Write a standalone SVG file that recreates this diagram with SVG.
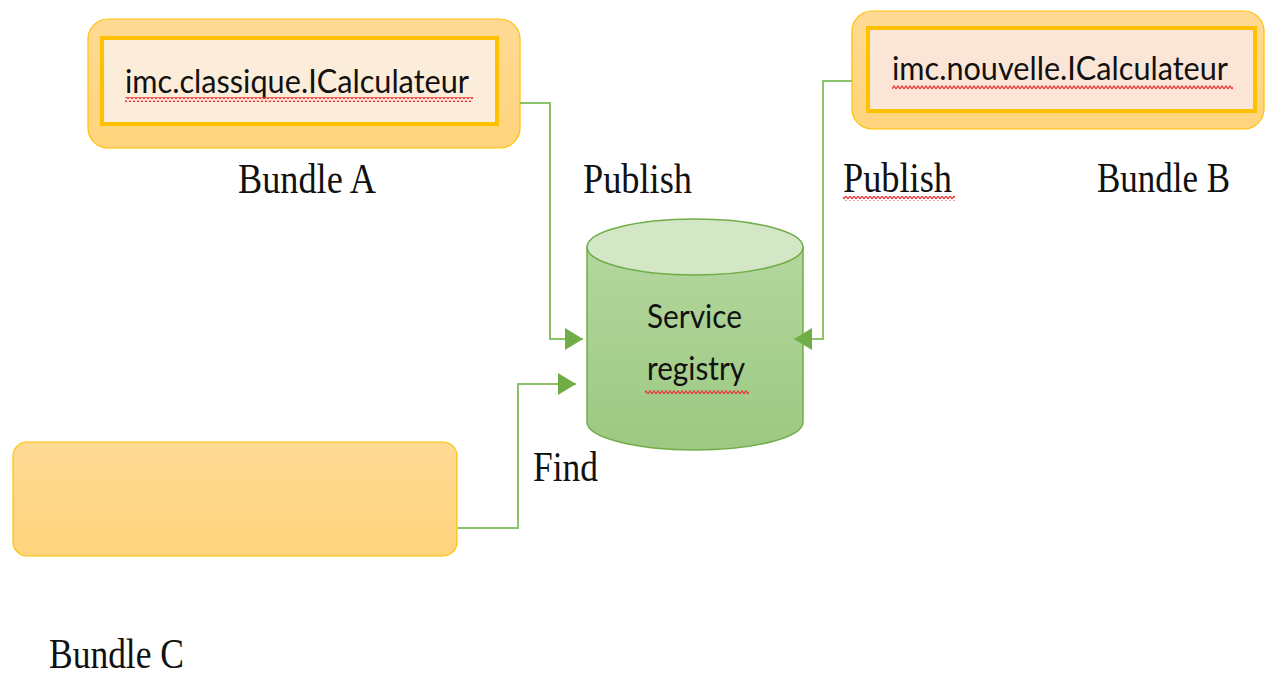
<svg xmlns="http://www.w3.org/2000/svg" width="1269" height="675" viewBox="0 0 1269 675">
  <style>
    .bundle-outer { fill: url(#bundleFill); stroke: #FFC000; stroke-width: 1.2; }
    .iface { stroke: #FFC000; stroke-width: 4; }
    .iface-text { font-family: "Lato", "Open Sans", "Liberation Sans", sans-serif; font-size: 32px; fill: #111; }
    .label { font-family: "Liberation Serif", "DejaVu Serif", serif; font-size: 42px; fill: #111; }
    .reg-text { font-family: "Lato", "Open Sans", "Liberation Sans", sans-serif; font-size: 32px; fill: #111; }
    .link { fill: none; stroke: #8CC26A; stroke-width: 2; }
    .spell { fill: url(#squiggle); }
  </style>
  <defs>
    <linearGradient id="bundleFill" x1="0" y1="0" x2="0" y2="1">
      <stop offset="0" stop-color="#FFDA94"/>
      <stop offset="1" stop-color="#FFD47C"/>
    </linearGradient>
    <linearGradient id="cylBody" x1="0" y1="0" x2="0" y2="1">
      <stop offset="0" stop-color="#B3D69D"/>
      <stop offset="1" stop-color="#9CC982"/>
    </linearGradient>
    <!-- red wavy spell-check underline -->
    <pattern id="squiggle" patternUnits="userSpaceOnUse" width="4" height="5">
      <path d="M0 4 L2 1 L4 4" fill="none" stroke="#E8393B" stroke-width="1.3"/>
    </pattern>
    <marker id="arrow" viewBox="0 0 18 22" refX="18" refY="11" markerWidth="18" markerHeight="22" markerUnits="userSpaceOnUse" orient="auto">
      <path d="M0 0 L18 11 L0 22 Z" fill="#70AD47"/>
    </marker>
  </defs>

  <!-- bundle A -->
  <g id="bundle-a">
    <rect class="bundle-outer" x="88" y="19" width="432" height="129" rx="20"/>
    <rect class="iface" x="102" y="38" width="395" height="86" fill="#FBEDD9"/>
    <text class="iface-text" x="125" y="93" textLength="344" lengthAdjust="spacingAndGlyphs">imc.classique.ICalculateur</text>
    <rect class="spell" x="125" y="97" width="348" height="5"/>
    <text class="label" x="238" y="193" textLength="138" lengthAdjust="spacingAndGlyphs">Bundle A</text>
  </g>

  <!-- bundle B -->
  <g id="bundle-b">
    <rect class="bundle-outer" x="852" y="11" width="412" height="118" rx="20"/>
    <rect class="iface" x="868" y="28" width="387" height="83" fill="#FBE5D6"/>
    <text class="iface-text" x="892" y="80" textLength="336" lengthAdjust="spacingAndGlyphs">imc.nouvelle.ICalculateur</text>
    <rect class="spell" x="892" y="85" width="341" height="5"/>
    <text class="label" x="1097" y="192" textLength="133" lengthAdjust="spacingAndGlyphs">Bundle B</text>
  </g>

  <!-- bundle C -->
  <g id="bundle-c">
    <rect class="bundle-outer" x="13" y="442" width="444" height="114" rx="14"/>
    <text class="label" x="49" y="668" textLength="135" lengthAdjust="spacingAndGlyphs">Bundle C</text>
  </g>

  <!-- service registry -->
  <g id="service-registry">
    <path d="M587 247 V422 A108 28 0 0 0 803 422 V247 Z" fill="url(#cylBody)" stroke="#70AD47" stroke-width="1.5"/>
    <ellipse cx="695" cy="247" rx="108" ry="28" fill="#D3E7C7" stroke="#70AD47" stroke-width="1.5"/>
    <text class="reg-text" x="647" y="328" textLength="95" lengthAdjust="spacingAndGlyphs">Service</text>
    <text class="reg-text" x="647" y="380" textLength="98" lengthAdjust="spacingAndGlyphs">registry</text>
    <rect class="spell" x="645" y="390" width="104" height="5"/>
  </g>

  <!-- connectors, drawn over the nodes so arrow tips stay visible -->
  <g id="connectors">
    <path class="link" d="M520 103 H550 V339 H583" marker-end="url(#arrow)"/>
    <path class="link" d="M852 81 H823 V339 H794" marker-end="url(#arrow)"/>
    <path class="link" d="M458 528 H518 V384 H576" marker-end="url(#arrow)"/>
  </g>

  <!-- connector labels -->
  <g id="labels">
    <text class="label" x="583" y="193" textLength="109" lengthAdjust="spacingAndGlyphs">Publish</text>
    <text class="label" x="843" y="192" textLength="109" lengthAdjust="spacingAndGlyphs">Publish</text>
    <rect class="spell" x="843" y="196" width="112" height="5"/>
    <text class="label" x="533" y="481" textLength="65" lengthAdjust="spacingAndGlyphs">Find</text>
  </g>
</svg>
